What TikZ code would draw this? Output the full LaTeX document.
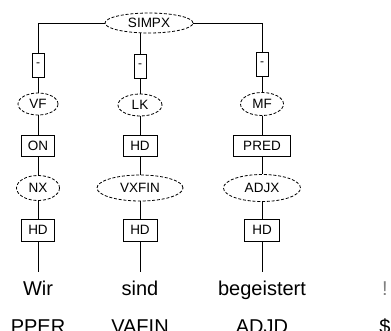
\documentclass[tikz,border=0pt]{standalone}
\usepackage{fontspec}
\setmainfont{Liberation Sans}
\usetikzlibrary{shapes.geometric}
\begin{document}
\begin{tikzpicture}[x=1pt,y=-1pt,line width=0.8pt,
  cat/.style={ellipse,draw,dashed,dash pattern=on 3pt off 1.8pt,inner sep=0pt,font=\fontsize{13.5}{14}\selectfont},
  fn/.style={rectangle,draw,inner sep=0pt,font=\fontsize{13.5}{14}\selectfont},
  dashbox/.style={rectangle,draw,inner sep=0pt,minimum width=12pt,minimum height=24pt,font=\fontsize{12}{12}\selectfont},
  word/.style={anchor=base,inner sep=0pt,text height=14pt,text depth=4pt,font=\fontsize{20}{20}\selectfont},
  tag/.style={anchor=base,inner sep=0pt,font=\fontsize{20}{20}\selectfont},
  conn/.style={draw,line width=0.8pt}]
\useasboundingbox (0,0) rectangle (391,330);
\clip (0,0) rectangle (391,330);
\fill[white] (0,0) rectangle (391,330);
% top node
\node[cat,minimum width=88pt,minimum height=20pt] (s) at (149,23) {SIMPX};
% column 1
\node[dashbox] (d1) at (38,65) {-};
\node[cat,minimum width=40pt,minimum height=22pt] (f1) at (38,104) {VF};
\node[fn,minimum width=33pt,minimum height=21pt] (g1) at (38,146) {ON};
\node[cat,minimum width=43pt,minimum height=25pt] (p1) at (38,188) {NX};
\node[fn,minimum width=33pt,minimum height=22pt] (h1) at (38,230) {HD};
\node[word] (w1) at (38,295) {Wir};
\node[tag] (t1) at (38,333) {PPER};
% column 2
\node[dashbox] (d2) at (140,66) {-};
\node[cat,minimum width=44pt,minimum height=22pt] (f2) at (140,105) {LK};
\node[fn,minimum width=34pt,minimum height=21pt] (g2) at (140,146) {HD};
\node[cat,minimum width=86pt,minimum height=26pt] (p2) at (140,188) {VXFIN};
\node[fn,minimum width=34pt,minimum height=22pt] (h2) at (140,230) {HD};
\node[word] (w2) at (140,295) {sind};
\node[tag] (t2) at (140,333) {VAFIN};
% column 3
\node[dashbox] (d3) at (262,64) {-};
\node[cat,minimum width=43pt,minimum height=23pt] (f3) at (262,104) {MF};
\node[fn,minimum width=57pt,minimum height=21pt] (g3) at (262,146) {PRED};
\node[cat,minimum width=77pt,minimum height=27pt] (p3) at (262,188) {ADJX};
\node[fn,minimum width=35pt,minimum height=22pt] (h3) at (262,230) {HD};
\node[word] (w3) at (262,295) {begeistert};
\node[tag] (t3) at (262,333) {ADJD};
% punctuation
\node[word,text=gray] (w4) at (385,295) {!};
\node[tag,anchor=base west] (t4) at (379,333) {\$.};
% connectors
\draw (s.west) -| (d1);
\draw (s.east) -| (d3);
\draw (d2 |- s.south) -- (d2);
\draw (d1) -- (f1) -- (g1) -- (p1) -- (h1);
\draw (d2) -- (f2) -- (g2) -- (p2) -- (h2);
\draw (d3) -- (f3) -- (g3) -- (p3) -- (h3);
\draw[shorten >=9pt] (h1) -- (w1.north);
\draw[shorten >=9pt] (h2) -- (w2.north);
\draw[shorten >=9pt] (h3) -- (w3.north);
\end{tikzpicture}
\end{document}
